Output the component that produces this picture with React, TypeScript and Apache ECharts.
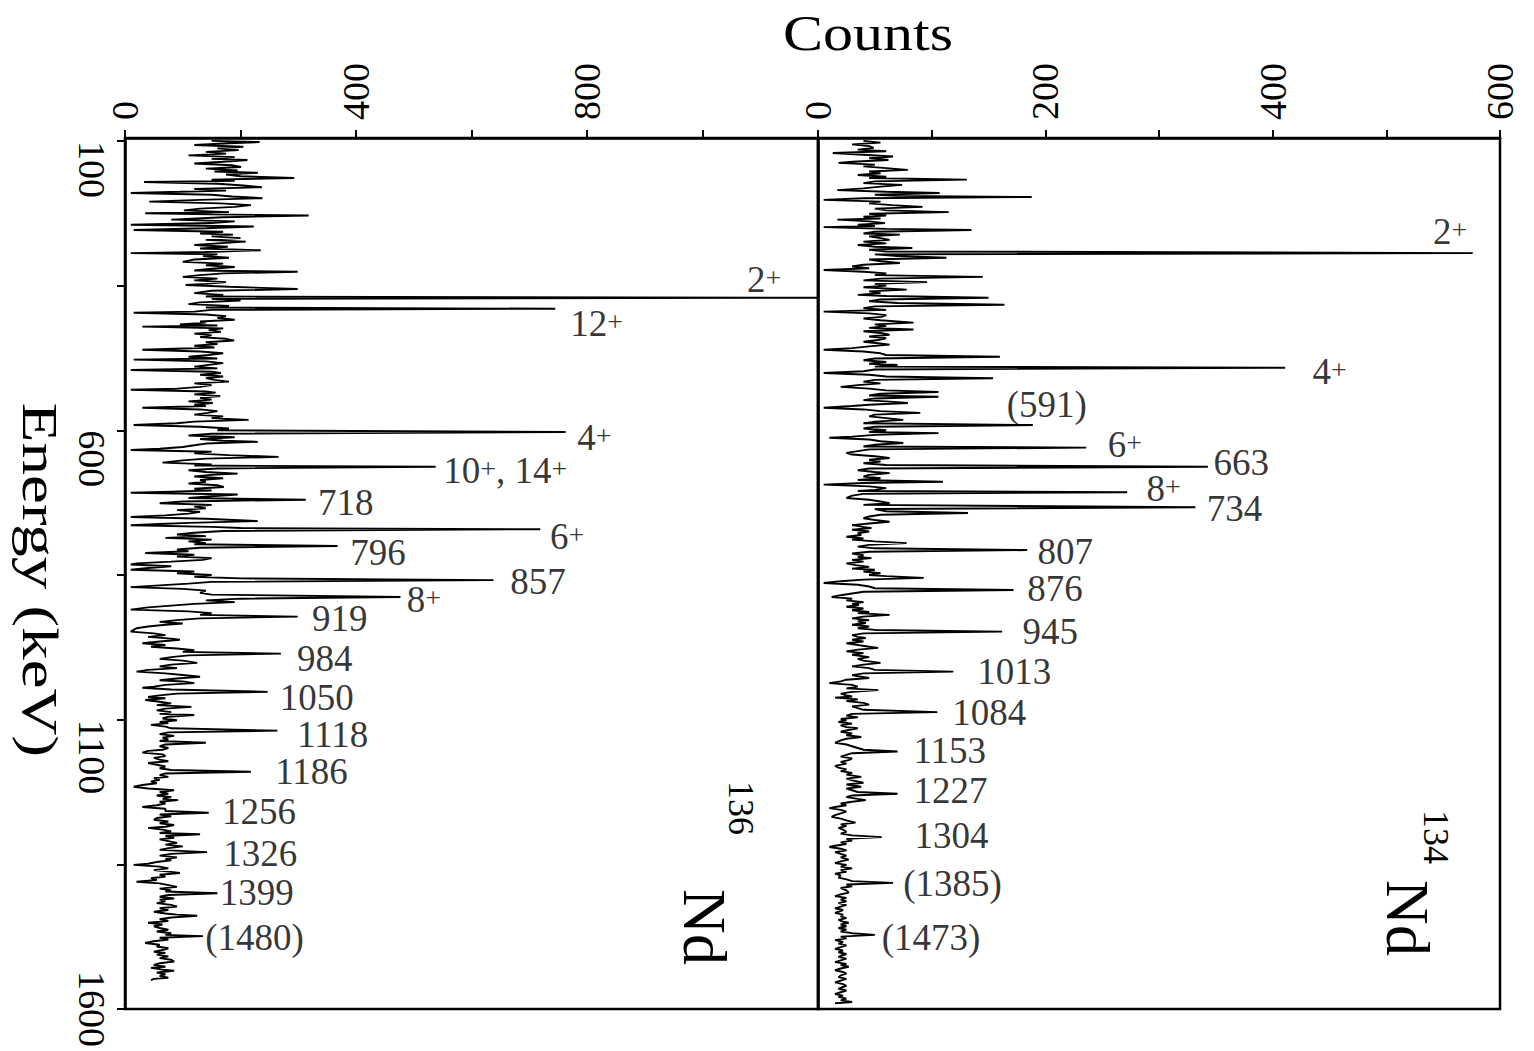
import React, { useEffect, useRef } from "react";
import * as echarts from "echarts";

const ENERGY_MIN = 95;
const ENERGY_MAX = 1600;
const energyTicks = [100, 350, 600, 850, 1100, 1350, 1600];
const energyTickLabels = [100, 600, 1100, 1600];
const nd136CountMax = 1200;
const nd136CountLabels = [0, 400, 800];
const nd134CountMax = 600;
const nd134CountLabels = [0, 200, 400, 600];

// 136Nd spectrum: [energy keV, counts]
const nd136Spectrum: number[][] = [
  [100,150],[102,233],[104,180],[107,120],[110,205],[113,160],[116,197],[119,140],[122,175],[125,110],
  [128,190],[131,150],[133,212],[136,170],[139,120],[142,185],[145,201],[148,140],[151,195],[153,155],
  [155,230],[158,175],[161,200],[164,293],[167,150],[169,190],[171,33],[174,160],[177,205],[180,237],
  [183,120],[186,175],[188,95],[190,10],[193,150],[196,185],[199,238],[202,130],[205,42],[208,165],
  [211,218],[214,190],[217,130],[220,102],[223,180],[225,35],[227,150],[229,318],[232,170],[236,80],
  [239,190],[242,150],[245,10],[248,223],[251,140],[254,15],[257,170],[260,130],[262,187],[265,150],
  [268,200],[271,140],[274,209],[277,160],[280,120],[283,178],[286,130],[289,235],[292,140],[294,10],
  [296,160],[299,135],[302,180],[305,120],[309,100],[312,170],[315,140],[318,190],[321,150],[324,120],
  [326,299],[329,170],[332,130],[335,100],[338,160],[341,120],[344,175],[347,140],[349,105],[352,180],
  [356,299],[359,150],[363,120],[366,170],[369,140],[371,1200],[373,150],[376,200],[379,130],[382,110],
  [385,180],[388,140],[390,745],[392,150],[395,120],[397,15],[400,140],[403,175],[406,160],[409,190],
  [412,130],[414,140],[417,95],[419,160],[421,30],[424,170],[427,145],[430,166],[433,120],[436,150],
  [439,130],[442,175],[445,189],[448,140],[451,160],[454,120],[457,155],[461,30],[464,130],[467,170],
  [470,145],[473,110],[476,160],[478,15],[481,140],[484,170],[487,145],[490,120],[493,160],[496,10],
  [499,150],[501,166],[504,130],[507,170],[510,140],[513,155],[516,180],[519,120],[522,150],[525,130],
  [528,90],[530,10],[533,140],[535,157],[538,120],[541,165],[544,130],[547,150],[550,110],[553,152],
  [556,120],[558,140],[561,30],[564,130],[567,160],[570,143],[573,120],[576,170],[579,150],[582,214],
  [585,120],[588,90],[591,15],[594,130],[597,180],[600,160],[603,763],[606,150],[609,110],[612,190],
  [615,130],[618,170],[620,230],[623,140],[626,120],[629,100],[632,60],[634,10],[637,150],[640,120],
  [643,180],[646,266],[649,140],[652,100],[656,65],[659,150],[661,120],[663,538],[666,160],[669,110],
  [672,140],[675,195],[677,150],[680,120],[683,170],[686,130],[689,140],[692,110],[695,160],[698,171],
  [701,120],[704,150],[706,80],[708,10],[711,195],[714,150],[717,110],[720,313],[723,100],[726,60],
  [729,150],[732,120],[735,140],[738,90],[741,130],[744,110],[747,70],[750,10],[753,140],[757,230],
  [760,110],[762,60],[764,10],[767,150],[769,200],[771,719],[774,170],[777,120],[780,90],[783,140],
  [786,70],[789,150],[792,110],[795,140],[797,120],[800,368],[803,130],[806,90],[809,110],[812,35],
  [815,120],[818,90],[821,150],[824,135],[827,80],[830,20],[832,10],[835,80],[838,40],[841,10],
  [844,120],[847,90],[850,150],[853,120],[856,200],[859,638],[862,150],[865,110],[868,60],[871,10],
  [874,100],[877,140],[881,130],[884,150],[888,477],[891,200],[894,140],[897,190],[900,120],[903,80],
  [906,40],[910,10],[913,110],[916,150],[919,130],[922,299],[925,130],[928,90],[931,60],[934,100],
  [936,70],[939,40],[942,20],[945,15],[948,10],[951,50],[954,70],[957,40],[960,80],[962,95],
  [965,60],[968,30],[971,70],[974,45],[977,90],[980,120],[983,100],[986,270],[989,110],[992,80],
  [995,60],[998,100],[1002,125],[1005,80],[1008,60],[1011,90],[1014,40],[1017,20],[1020,70],[1023,100],
  [1026,130],[1029,90],[1032,60],[1034,100],[1037,120],[1040,70],[1043,50],[1045,30],[1048,80],[1052,247],
  [1055,90],[1058,60],[1061,40],[1063,70],[1066,35],[1069,60],[1072,80],[1075,55],[1078,115],[1081,70],
  [1084,55],[1087,80],[1090,60],[1092,120],[1095,75],[1098,65],[1101,90],[1104,60],[1106,75],[1109,45],
  [1112,70],[1115,80],[1119,264],[1122,75],[1125,60],[1128,85],[1131,65],[1134,75],[1137,60],[1140,140],
  [1143,70],[1146,60],[1149,75],[1152,65],[1154,40],[1157,30],[1160,65],[1163,70],[1166,50],[1169,60],
  [1172,75],[1175,40],[1178,55],[1181,70],[1184,60],[1187,80],[1190,218],[1193,70],[1196,60],[1199,75],
  [1201,50],[1204,60],[1207,45],[1210,55],[1213,30],[1216,15],[1219,40],[1222,85],[1225,60],[1228,75],
  [1231,55],[1234,80],[1237,65],[1239,92],[1242,60],[1245,70],[1248,55],[1251,30],[1254,70],[1258,70],
  [1261,145],[1264,60],[1267,80],[1270,55],[1273,50],[1276,75],[1279,60],[1282,85],[1285,70],[1287,40],
  [1290,65],[1293,80],[1296,60],[1298,130],[1301,70],[1304,85],[1307,60],[1310,75],[1313,90],[1316,70],
  [1319,100],[1322,75],[1325,60],[1329,142],[1332,80],[1335,60],[1338,90],[1341,70],[1343,80],[1346,55],
  [1349,40],[1351,15],[1354,60],[1357,75],[1360,50],[1363,80],[1365,95],[1368,60],[1371,70],[1374,45],
  [1377,55],[1380,20],[1383,60],[1386,75],[1389,90],[1392,60],[1395,80],[1397,70],[1400,160],[1403,75],
  [1406,60],[1409,85],[1411,60],[1414,70],[1417,55],[1420,80],[1423,90],[1426,60],[1429,75],[1432,50],
  [1435,70],[1437,90],[1439,125],[1442,80],[1445,60],[1448,75],[1451,40],[1454,65],[1457,50],[1460,60],
  [1463,75],[1466,55],[1469,80],[1472,70],[1474,135],[1477,60],[1480,75],[1483,50],[1486,35],[1489,60],
  [1492,55],[1495,75],[1498,65],[1501,50],[1503,70],[1506,55],[1509,75],[1512,60],[1515,80],[1518,85],
  [1521,60],[1524,50],[1527,70],[1529,45],[1532,65],[1534,85],[1537,55],[1540,70],[1543,60],[1546,75],
  [1548,50],[1550,45]
];

// 134Nd spectrum: [energy keV, counts]
const nd134Spectrum: number[][] = [
  [100,40],[103,55],[106,30],[109,45],[112,49],[115,35],[118,60],[121,13],[124,40],[127,66],
  [130,45],[133,62],[136,30],[138,18],[141,50],[144,40],[147,60],[150,79],[153,45],[156,55],
  [159,35],[162,60],[164,45],[167,131],[170,50],[173,40],[176,74],[179,55],[182,40],[185,17],
  [188,60],[190,107],[193,50],[195,70],[197,188],[199,40],[202,5],[205,55],[208,45],[211,65],
  [214,92],[217,50],[220,60],[223,115],[226,45],[229,60],[231,40],[234,55],[236,17],[239,45],
  [242,59],[245,35],[247,50],[249,5],[252,60],[254,135],[257,50],[260,40],[262,72],[265,45],
  [268,55],[271,63],[274,40],[277,60],[280,35],[283,50],[285,83],[288,45],[291,60],[294,576],
  [296,50],[299,70],[302,113],[305,45],[308,55],[311,72],[314,40],[317,30],[320,45],[323,5],
  [326,40],[329,60],[332,50],[335,145],[338,55],[341,40],[344,96],[347,50],[350,60],[353,40],
  [357,78],[360,45],[363,55],[366,35],[368,60],[371,150],[374,55],[377,45],[380,70],[383,164],
  [386,50],[389,40],[392,60],[395,5],[398,45],[401,60],[404,56],[407,40],[410,55],[414,84],
  [417,50],[420,60],[423,45],[426,84],[429,40],[432,55],[435,63],[438,45],[441,60],[444,53],
  [447,40],[450,55],[452,63],[455,45],[458,30],[461,5],[464,40],[467,55],[470,60],[473,160],
  [476,50],[479,40],[482,60],[485,45],[487,70],[490,50],[492,411],[495,50],[498,40],[501,5],
  [504,45],[507,60],[510,154],[513,50],[516,40],[519,55],[522,35],[525,20],[528,45],[531,60],
  [534,106],[537,55],[540,45],[542,106],[545,50],[548,40],[550,60],[553,79],[556,45],[558,30],
  [561,5],[564,40],[567,55],[570,90],[573,50],[576,45],[579,60],[582,75],[585,50],[588,40],
  [591,189],[594,50],[597,40],[600,60],[603,45],[605,106],[608,50],[611,30],[613,10],[616,45],
  [619,55],[622,75],[625,50],[628,40],[630,236],[633,45],[636,35],[639,25],[642,30],[645,50],
  [648,63],[651,45],[654,55],[657,40],[660,60],[663,343],[666,45],[669,35],[672,50],[674,63],
  [677,45],[680,40],[683,55],[686,35],[689,110],[691,40],[694,5],[697,45],[700,60],[703,50],
  [705,35],[707,272],[710,40],[713,30],[717,25],[720,45],[723,55],[726,63],[729,40],[733,332],
  [736,50],[740,60],[743,132],[746,55],[749,45],[752,40],[755,50],[758,63],[761,45],[764,30],
  [767,40],[769,47],[772,30],[775,45],[778,35],[781,38],[784,25],[787,40],[789,30],[792,50],
  [795,78],[798,45],[801,35],[804,50],[807,184],[810,45],[813,30],[816,40],[819,35],[821,47],
  [824,30],[827,40],[830,25],[833,33],[836,45],[839,30],[841,50],[844,40],[847,55],[850,45],
  [852,60],[855,93],[858,40],[861,20],[864,5],[867,35],[870,45],[873,50],[876,172],[879,40],
  [882,30],[885,20],[888,12],[891,30],[894,25],[897,40],[900,30],[902,36],[905,25],[908,40],
  [911,30],[914,45],[916,35],[919,63],[922,40],[925,30],[928,45],[930,35],[933,42],[936,30],
  [939,45],[942,35],[945,50],[948,162],[951,40],[954,30],[957,35],[959,42],[962,30],[965,40],
  [968,25],[971,35],[974,45],[976,53],[979,35],[982,25],[985,40],[988,30],[992,45],[995,35],
  [998,40],[1002,55],[1005,40],[1008,30],[1011,45],[1014,50],[1017,119],[1020,40],[1023,30],[1025,35],
  [1028,45],[1031,25],[1034,20],[1037,10],[1040,30],[1043,35],[1046,25],[1049,53],[1052,30],[1055,20],
  [1058,25],[1060,30],[1062,15],[1065,35],[1068,25],[1071,40],[1074,45],[1077,30],[1080,35],[1083,40],
  [1087,105],[1090,30],[1093,25],[1096,35],[1099,20],[1101,25],[1104,18],[1107,30],[1110,20],[1113,25],
  [1115,35],[1118,27],[1121,20],[1124,30],[1127,25],[1130,38],[1133,25],[1136,20],[1140,15],[1143,25],
  [1146,30],[1149,35],[1152,40],[1155,70],[1158,30],[1161,25],[1164,20],[1167,30],[1170,27],[1173,20],
  [1176,25],[1180,15],[1183,18],[1186,25],[1189,20],[1192,30],[1195,25],[1199,38],[1202,25],[1205,30],
  [1209,40],[1212,25],[1216,38],[1219,25],[1222,30],[1225,35],[1228,70],[1231,30],[1234,25],[1237,35],
  [1239,42],[1242,30],[1245,20],[1248,25],[1251,15],[1253,10],[1256,20],[1259,25],[1262,20],[1265,15],
  [1268,12],[1271,20],[1274,25],[1278,33],[1281,20],[1284,25],[1287,18],[1290,22],[1294,25],[1297,20],
  [1300,30],[1303,56],[1306,25],[1309,30],[1312,20],[1315,25],[1318,15],[1320,10],[1323,20],[1326,25],
  [1329,15],[1332,20],[1335,25],[1338,20],[1342,27],[1345,20],[1348,15],[1351,25],[1354,20],[1357,30],
  [1360,20],[1363,25],[1366,15],[1369,20],[1373,18],[1376,25],[1379,30],[1382,66],[1385,25],[1388,30],
  [1391,20],[1395,25],[1399,27],[1402,20],[1405,15],[1408,25],[1411,20],[1414,25],[1417,18],[1420,25],
  [1423,20],[1426,15],[1429,22],[1432,18],[1434,15],[1437,22],[1440,20],[1443,25],[1446,18],[1449,22],
  [1451,27],[1454,20],[1457,25],[1460,18],[1463,25],[1466,20],[1469,30],[1472,50],[1475,20],[1478,25],
  [1481,15],[1484,22],[1487,18],[1490,25],[1493,20],[1496,15],[1499,22],[1502,18],[1505,25],[1508,20],
  [1510,18],[1513,25],[1516,20],[1519,15],[1522,25],[1524,20],[1527,27],[1530,20],[1533,15],[1536,22],
  [1539,25],[1542,20],[1545,18],[1548,25],[1551,20],[1554,15],[1557,22],[1560,25],[1562,22],[1565,18],
  [1568,25],[1571,20],[1574,15],[1577,22],[1579,18],[1582,25],[1585,20],[1588,30],[1590,15]
];

// Peak annotations: text, energy (keV) of label centre, counts at label's left edge
const nd136PeakTexts = ["2+", "12+", "4+", "10+, 14+", "718", "6+", "796", "857", "8+", "919", "984", "1050", "1118", "1186", "1256", "1326", "1399", "(1480)"];
const nd136PeakEnergies = [340, 416, 612, 669, 724, 783, 812, 862, 893, 926, 994, 1062, 1125, 1190, 1259, 1331, 1398, 1476];
const nd136PeakCounts = [1077, 771, 783, 551, 334, 736, 390, 667, 488, 324, 298, 268, 298, 260, 168, 170, 164, 139];

const nd134PeakTexts = ["2+", "4+", "(591)", "6+", "663", "8+", "734", "807", "876", "945", "1013", "1084", "1153", "1227", "1304", "(1385)", "(1473)"];
const nd134PeakEnergies = [257, 499, 556, 624, 655, 700, 736, 809, 874, 947, 1016, 1087, 1154, 1223, 1301, 1384, 1476];
const nd134PeakCounts = [541, 435, 166, 255, 348, 289, 342, 193, 184, 180, 140, 118, 84, 84, 85, 75, 56];

const SERIF = '"Liberation Serif", "Times New Roman", serif';

function toRich(t: string): string {
  return t
    .split(/(\+)/)
    .filter((p) => p.length > 0)
    .map((p) => (p === "+" ? "{s|+}" : `{n|${p}}`))
    .join("");
}

const richStyles = {
  n: { fontSize: 37, fontFamily: SERIF, color: "#000", lineHeight: 32 },
  s: { fontSize: 28, fontFamily: SERIF, color: "#000", lineHeight: 10, verticalAlign: "top" },
};

function labelSeries(texts: string[], energies: number[], counts: number[], idx: number) {
  return {
    type: "scatter",
    xAxisIndex: idx,
    yAxisIndex: idx,
    symbolSize: 0,
    silent: true,
    data: texts.map((t, i) => ({ name: t, value: [counts[i], energies[i]] })),
    label: {
      show: true,
      position: "right",
      distance: 0,
      formatter: (p: any) => toRich(p.name),
      rich: richStyles,
    },
    z: 5,
  };
}

export default function App() {
  const ref = useRef<HTMLDivElement>(null);
  useEffect(() => {
    if (!ref.current) return;
    const chart = echarts.init(ref.current, undefined, { renderer: "svg" });
    const axisText = { fontSize: 38, fontFamily: SERIF, color: "#000" };
    const countAxis = (idx: number, max: number, step: number, shown: number[]) => ({
      type: "value",
      gridIndex: idx,
      position: "top",
      min: 0,
      max,
      interval: step,
      axisLine: { show: true, lineStyle: { color: "#000", width: 2.5 } },
      axisTick: { show: true, inside: false, length: 8, lineStyle: { color: "#000", width: 2 } },
      splitLine: { show: false },
      axisLabel: {
        ...axisText,
        rotate: -90,
        margin: 18,
        showMinLabel: true,
        showMaxLabel: true,
        formatter: (v: number) => (shown.indexOf(v) >= 0 ? String(v) : ""),
      },
    });
    const energyAxis = (idx: number, withLabels: boolean) => ({
      type: "value",
      gridIndex: idx,
      inverse: true,
      min: ENERGY_MIN,
      max: ENERGY_MAX,
      axisLine: { show: true, lineStyle: { color: "#000", width: 2.5 } },
      axisTick: {
        show: withLabels,
        inside: false,
        length: 8,
        customValues: energyTicks,
        lineStyle: { color: "#000", width: 2 },
      },
      splitLine: { show: false },
      axisLabel: {
        show: withLabels,
        ...axisText,
        rotate: -90,
        margin: 14,
        align: "left",
        alignMaxLabel: "center",
        customValues: energyTickLabels,
        formatter: (v: number) => String(v),
      },
    });
    chart.setOption({
      animation: false,
      backgroundColor: "#fff",
      grid: [
        { left: 125, top: 138, width: 693, height: 871, show: true, borderColor: "#000", borderWidth: 2.5 },
        { left: 818, top: 138, width: 682, height: 871, show: true, borderColor: "#000", borderWidth: 2.5 },
      ],
      xAxis: [
        countAxis(0, nd136CountMax, 200, nd136CountLabels),
        countAxis(1, nd134CountMax, 100, nd134CountLabels),
      ],
      yAxis: [energyAxis(0, true), energyAxis(1, false)],
      series: [
        {
          type: "line",
          xAxisIndex: 0,
          yAxisIndex: 0,
          data: nd136Spectrum.map(([e, c]) => [c, e]),
          showSymbol: false,
          symbol: "none",
          clip: true,
          lineStyle: { color: "#000", width: 1.9 },
          silent: true,
        },
        {
          type: "line",
          xAxisIndex: 1,
          yAxisIndex: 1,
          data: nd134Spectrum.map(([e, c]) => [c, e]),
          showSymbol: false,
          symbol: "none",
          clip: true,
          lineStyle: { color: "#000", width: 1.9 },
          silent: true,
        },
        labelSeries(nd136PeakTexts, nd136PeakEnergies, nd136PeakCounts, 0),
        labelSeries(nd134PeakTexts, nd134PeakEnergies, nd134PeakCounts, 1),
      ],
      graphic: [
        {
          type: "text",
          x: 868,
          y: 33,
          scaleX: 1.2,
          style: { text: "Counts", fontSize: 50, fontFamily: SERIF, fill: "#000", align: "center", verticalAlign: "middle" },
        },
        {
          type: "text",
          x: 40,
          y: 580,
          rotation: -Math.PI / 2,
          scaleX: 1.3,
          style: { text: "Energy (keV)", fontSize: 50, fontFamily: SERIF, fill: "#000", align: "center", verticalAlign: "middle" },
        },
        {
          type: "text",
          x: 741,
          y: 808,
          rotation: -Math.PI / 2,
          style: { text: "136", fontSize: 36, fontFamily: SERIF, fill: "#000", align: "center", verticalAlign: "middle" },
        },
        {
          type: "text",
          x: 705,
          y: 927,
          rotation: -Math.PI / 2,
          style: { text: "Nd", fontSize: 62, fontFamily: SERIF, fill: "#000", align: "center", verticalAlign: "middle" },
        },
        {
          type: "text",
          x: 1436,
          y: 837,
          rotation: -Math.PI / 2,
          style: { text: "134", fontSize: 36, fontFamily: SERIF, fill: "#000", align: "center", verticalAlign: "middle" },
        },
        {
          type: "text",
          x: 1408,
          y: 918,
          rotation: -Math.PI / 2,
          style: { text: "Nd", fontSize: 62, fontFamily: SERIF, fill: "#000", align: "center", verticalAlign: "middle" },
        },
      ],
    });
    return () => chart.dispose();
  }, []);
  return <div ref={ref} style={{ position: "fixed", left: 0, top: 0, width: 1534, height: 1051, background: "#fff" }} />;
}
